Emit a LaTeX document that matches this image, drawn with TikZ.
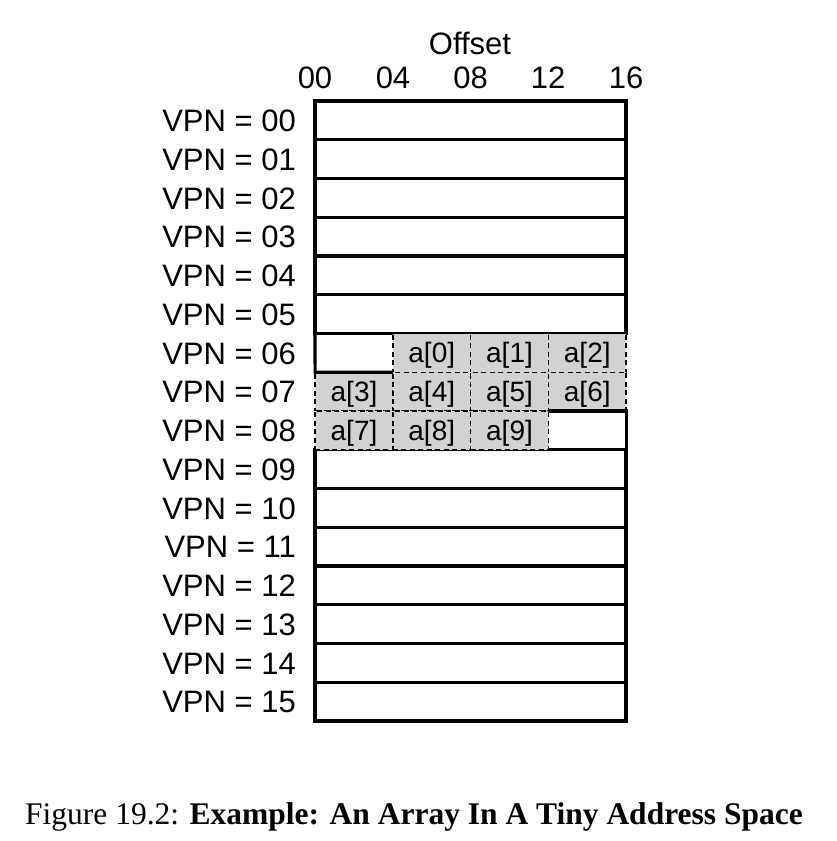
\documentclass[tikz,border=0pt]{standalone}
\usepackage{fontspec}
\setmainfont{Liberation Sans}
\newfontfamily\capfont{Liberation Serif}
\begin{document}
\begin{tikzpicture}[x=1pt,y=-1pt,
  rowbox/.style={draw=black,line width=3.2pt,minimum width=311pt,minimum height=38.75pt,inner sep=0pt,outer sep=0pt},
  cellbox/.style={draw=black,fill=gray!35,dashed,dash pattern=on 5pt off 3.5pt,line width=1.5pt,minimum width=77.75pt,minimum height=38.75pt,inner sep=0pt,outer sep=0pt,text height=20pt,text depth=0pt,font=\fontsize{28}{33}\selectfont},
  vpn/.style={anchor=base east,font=\fontsize{31}{36}\selectfont,inner sep=0pt},
  offl/.style={anchor=base,font=\fontsize{31}{36}\selectfont,inner sep=0pt},
  solidline/.style={draw=black,line width=3.2pt}]
\useasboundingbox (0,0) rectangle (836,841);
% rows
\foreach \i in {0,...,5,9,10,...,15}{
  \node[rowbox] (r\i) at (470.5,{120.4+38.75*\i}) {};
}
% labels
\foreach \i/\t in {0/00,1/01,2/02,3/03,4/04,5/05,6/06,7/07,8/08,9/09,10/10,11/11,12/12,13/13,14/14,15/15}{
  \node[vpn] (l\i) at (296,{131.5+38.75*\i}) {VPN = \t};
}
% offsets
\node[offl] (o0) at (315,88) {00};
\node[offl] (o1) at (393,88) {04};
\node[offl] (o2) at (470.5,88) {08};
\node[offl] (o3) at (548,88) {12};
\node[offl] (o4) at (626,88) {16};
\node[offl] (off) at (470,54) {Offset};
% array cells
\def\cx#1{354+77.75*#1}
\node[cellbox] (a0) at ({\cx{1}},{120.4+38.75*6}) {a[0]};
\node[cellbox] (a1) at ({\cx{2}},{120.4+38.75*6}) {a[1]};
\node[cellbox] (a2) at ({\cx{3}},{120.4+38.75*6}) {a[2]};
\node[cellbox] (a3) at ({\cx{0}},{120.4+38.75*7}) {a[3]};
\node[cellbox] (a4) at ({\cx{1}},{120.4+38.75*7}) {a[4]};
\node[cellbox] (a5) at ({\cx{2}},{120.4+38.75*7}) {a[5]};
\node[cellbox] (a6) at ({\cx{3}},{120.4+38.75*7}) {a[6]};
\node[cellbox] (a7) at ({\cx{0}},{120.4+38.75*8}) {a[7]};
\node[cellbox] (a8) at ({\cx{1}},{120.4+38.75*8}) {a[8]};
\node[cellbox] (a9) at ({\cx{2}},{120.4+38.75*8}) {a[9]};
% white parts outlines
\draw[solidline] (r5.south west) -- (a3.north west) -- (a4.north west);
\draw[solidline] (a9.north east) -- (a6.south east) -- (a6.south east |- r9.north);
% caption
\node[anchor=base west,font=\capfont\fontsize{31.5}{36}\selectfont,inner sep=0pt] (cap) at (25,824) {Figure 19.2: \textbf{Example: An Array In A Tiny Address Space}};
\end{tikzpicture}
\end{document}
